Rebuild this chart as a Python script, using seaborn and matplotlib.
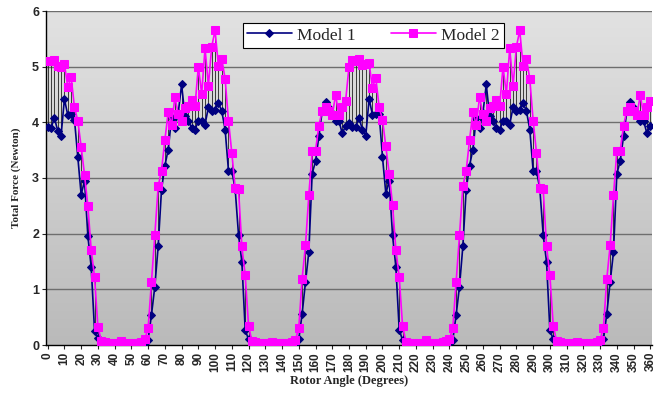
import numpy as np
import pandas as pd
import matplotlib
matplotlib.use("Agg")
import matplotlib.pyplot as plt
from matplotlib.colors import LinearSegmentedColormap
import seaborn as sns

angles = list(range(0, 361, 2))
model1 = [
    3.91, 3.90, 4.08, 3.85, 3.76, 4.42, 4.13, 4.15, 4.05, 3.38,
    2.70, 2.95, 1.96, 1.40, 0.26, 0.12, 0.04, 0.02, 0.01, 0.01,
    0.01, 0.01, 0.02, 0.01, 0.01, 0.01, 0.01, 0.01, 0.02, 0.03,
    0.09, 0.54, 1.05, 1.77, 2.79, 3.22, 3.51, 4.08, 3.90, 4.17,
    4.68, 4.11, 4.03, 3.90, 3.87, 4.02, 4.02, 3.96, 4.27, 4.20,
    4.23, 4.35, 4.20, 3.87, 3.13, 3.13, 2.80, 1.98, 1.49, 0.27,
    0.10, 0.04, 0.02, 0.01, 0.01, 0.01, 0.01, 0.02, 0.01, 0.01,
    0.01, 0.01, 0.01, 0.02, 0.02, 0.10, 0.56, 1.13, 1.67, 3.08,
    3.30, 3.75, 4.20, 4.36, 4.26, 4.17, 4.02, 4.02, 3.80, 3.94,
    3.99, 3.92, 3.92, 4.08, 3.87, 3.75, 4.42, 4.14, 4.15, 4.15,
    3.38, 2.72, 2.95, 1.97, 1.40, 0.27, 0.09, 0.03, 0.01, 0.01,
    0.01, 0.01, 0.02, 0.01, 0.01, 0.01, 0.01, 0.01, 0.02, 0.03,
    0.04, 0.09, 0.54, 1.05, 1.77, 2.79, 3.22, 3.51, 4.08, 3.90,
    4.17, 4.68, 4.11, 4.03, 3.90, 3.87, 4.02, 4.02, 3.96, 4.27,
    4.20, 4.23, 4.35, 4.20, 3.87, 3.13, 3.13, 2.80, 1.98, 1.49,
    0.27, 0.10, 0.04, 0.02, 0.01, 0.01, 0.01, 0.02, 0.01, 0.01,
    0.01, 0.01, 0.01, 0.02, 0.03, 0.04, 0.10, 0.56, 1.13, 1.67,
    3.08, 3.30, 3.75, 4.20, 4.36, 4.26, 4.17, 4.02, 4.02, 3.80,
    3.94,
]
model2 = [
    5.11, 5.11, 5.12, 5.02, 5.00, 5.05, 4.63, 4.81, 4.27, 4.03,
    3.56, 3.06, 2.50, 1.71, 1.22, 0.33, 0.08, 0.05, 0.03, 0.02,
    0.03, 0.04, 0.08, 0.04, 0.03, 0.02, 0.03, 0.04, 0.06, 0.10,
    0.30, 1.14, 1.97, 2.85, 3.13, 3.68, 4.18, 3.96, 4.45, 4.15,
    4.02, 4.26, 4.30, 4.41, 4.29, 5.00, 4.51, 5.33, 4.66, 5.36,
    5.65, 5.01, 5.14, 4.78, 4.03, 3.45, 2.82, 2.80, 1.77, 1.25,
    0.35, 0.07, 0.05, 0.03, 0.02, 0.03, 0.04, 0.05, 0.04, 0.03,
    0.03, 0.03, 0.04, 0.06, 0.09, 0.31, 1.19, 1.79, 2.69, 3.48,
    3.49, 3.94, 4.21, 4.27, 4.21, 4.13, 4.49, 4.13, 4.28, 4.39,
    5.00, 5.12, 5.10, 5.13, 5.03, 5.05, 5.07, 4.62, 4.80, 4.27,
    4.05, 3.57, 3.08, 2.52, 1.71, 1.22, 0.34, 0.06, 0.04, 0.03,
    0.02, 0.03, 0.04, 0.09, 0.04, 0.03, 0.03, 0.04, 0.05, 0.07,
    0.10, 0.30, 1.14, 1.97, 2.85, 3.13, 3.68, 4.18, 3.96, 4.45,
    4.15, 4.02, 4.26, 4.30, 4.41, 4.29, 5.00, 4.51, 5.33, 4.66,
    5.36, 5.65, 5.01, 5.14, 4.78, 4.03, 3.45, 2.82, 2.80, 1.77,
    1.25, 0.35, 0.07, 0.05, 0.03, 0.02, 0.03, 0.04, 0.05, 0.04,
    0.03, 0.03, 0.03, 0.04, 0.06, 0.09, 0.31, 1.19, 1.79, 2.69,
    3.48, 3.49, 3.94, 4.21, 4.27, 4.21, 4.13, 4.49, 4.13, 4.28,
    4.39,
]
x_ticks = list(range(0, 361, 10))
y_ticks = [0, 1, 2, 3, 4, 5, 6]
series_names = ["Model 1", "Model 2"]

sns.set_style("white")
fig = plt.figure(figsize=(6.6, 3.96), dpi=100)
ax = fig.add_axes([46 / 660, 51 / 396, 606 / 660, 334 / 396])

xlim = (-1, 361)
ylim = (0, 6)
cmap = LinearSegmentedColormap.from_list("bg", ["#bababa", "#e2e2e2"])
grad = np.linspace(0, 1, 256).reshape(-1, 1)
ax.imshow(grad, cmap=cmap, extent=[xlim[0], xlim[1], ylim[1], ylim[0]],
          aspect="auto", zorder=0)

for yv in y_ticks[1:]:
    ax.axhline(yv, color="#6e6e6e", lw=1.0, zorder=1)

a = np.array(angles)
m1 = np.array(model1)
m2 = np.array(model2)
ax.vlines(a, np.minimum(m1, m2), np.maximum(m1, m2), color="#202020",
          lw=0.6, zorder=2)

sns.lineplot(x=angles, y=model1, ax=ax, color="#000080", marker="D",
             markersize=4, markeredgecolor="#000080", lw=1.2,
             label=series_names[0], zorder=3)
sns.lineplot(x=angles, y=model2, ax=ax, color="#ff00ff", marker="s",
             markersize=5.5, markeredgecolor="#ff00ff", lw=1.2,
             label=series_names[1], zorder=4)

ax.set_xlim(*xlim)
ax.set_ylim(*ylim)
ax.set_xticks(x_ticks)
ax.set_xticklabels([str(t) for t in x_ticks], rotation=90,
                   fontfamily="Liberation Sans", fontweight="bold", fontsize=8.5)
ax.set_yticks(y_ticks)
ax.set_yticklabels([str(t) for t in y_ticks], fontfamily="Liberation Sans",
                   fontweight="bold", fontsize=9)
ax.tick_params(axis="both", length=3, width=0.8, direction="out", pad=2,
               bottom=True, left=True)

for s in ["top", "right"]:
    ax.spines[s].set_visible(False)
for s in ["left", "bottom"]:
    ax.spines[s].set_color("black")
    ax.spines[s].set_linewidth(1.0)

ax.set_xlabel("Rotor Angle (Degrees)", fontfamily="Liberation Serif",
              fontweight="bold", fontsize=9, labelpad=2)
ax.set_ylabel("Total Force (Newton)", fontfamily="Liberation Serif",
              fontweight="bold", fontsize=8, labelpad=8)

leg = ax.legend(loc="upper center", bbox_to_anchor=(0.54, 0.99), ncol=2,
                frameon=True, fancybox=False, framealpha=1,
                prop={"family": "Liberation Serif", "size": 12.5},
                handlelength=2.6, columnspacing=2.0, borderpad=0.25,
                handletextpad=0.3)
leg.get_frame().set_edgecolor("black")
leg.get_frame().set_linewidth(0.8)
leg.set_zorder(10)

fig.savefig("out.png", dpi=100)
